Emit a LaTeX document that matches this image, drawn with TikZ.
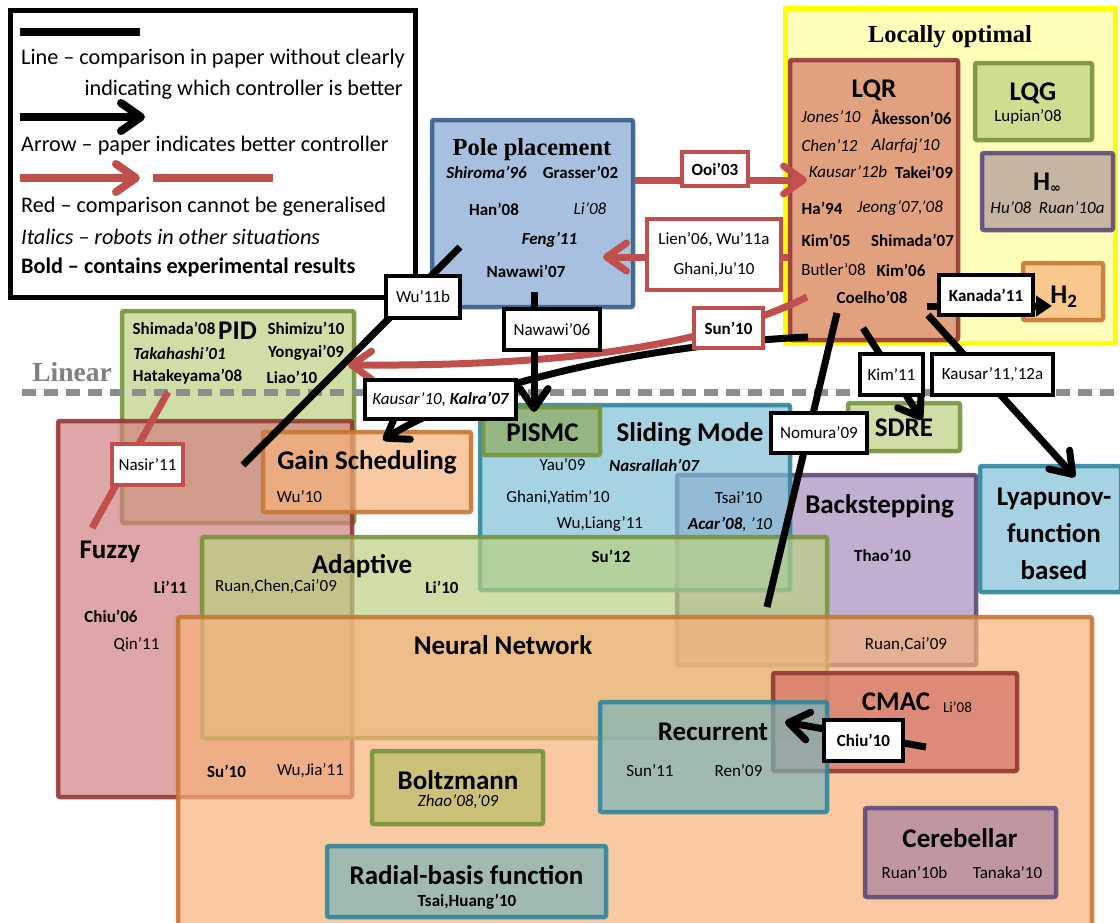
\documentclass[tikz,border=0pt]{standalone}
\usepackage{fontspec}
\setmainfont{Carlito}
\newfontfamily\serifbold{Liberation Serif}
\newfontfamily\symfont{DejaVu Sans}
\usetikzlibrary{arrows.meta,fit}

% fills (drawn with fill opacity) and borders
\definecolor{poleF}{RGB}{131,165,211}
\definecolor{poleD}{RGB}{56,93,138}
\definecolor{yelF}{RGB}{255,255,185}
\definecolor{yelD}{RGB}{255,255,0}
\definecolor{lqrF}{RGB}{215,122,101}
\definecolor{redD}{RGB}{149,55,53}
\definecolor{grnF}{RGB}{186,208,128}
\definecolor{grnD}{RGB}{119,147,60}
\definecolor{purF}{RGB}{166,140,190}
\definecolor{purD}{RGB}{95,73,122}
\definecolor{hinfF}{RGB}{175,150,155}
\definecolor{orgF}{RGB}{246,178,121}
\definecolor{orgD}{RGB}{200,118,52}
\definecolor{pinkF}{RGB}{208,128,128}
\definecolor{cmacF}{RGB}{210,114,102}
\definecolor{aquaF}{RGB}{128,192,215}
\definecolor{aquaD}{RGB}{49,133,156}
\definecolor{tealF}{RGB}{124,180,185}
\definecolor{pismcF}{RGB}{140,170,90}
\definecolor{boltF}{RGB}{184,192,104}
\definecolor{cereF}{RGB}{168,128,160}
\definecolor{linkR}{RGB}{192,80,77}
\definecolor{dashG}{RGB}{140,140,140}
\definecolor{linG}{RGB}{128,128,128}

\newcommand\fsTitle{\fontsize{27}{31}\selectfont\bfseries}
\newcommand\fsEntry{\fontsize{17}{19}\selectfont}
\newcommand\fsLegend{\fontsize{22.2}{25}\selectfont}
\newcommand\fsSerif{\fontsize{24.5}{28}\selectfont\serifbold\bfseries}
\newcommand\fsSerifL{\fontsize{27.5}{30}\selectfont\serifbold\bfseries}

\tikzset{
  regbox/.style 2 args={draw=#1, fill=#2, line width=4.5pt, rounded corners=2pt,
      inner sep=0pt, fill opacity=0.7, draw opacity=0.9},
  ttl/.style={font=\fsTitle, inner sep=0pt},
  ent/.style={font=\fsEntry, inner sep=0pt},
  lgd/.style={font=\fsLegend, inner sep=0pt},
  tagbox/.style={draw=black, fill=white, line width=4.5pt, inner sep=0pt,
      font=\fsEntry, align=center},
  redtag/.style={tagbox, draw=linkR},
  blk/.style={draw=black, line width=7pt},
  rd/.style={draw=linkR, line width=7pt},
  chev/.style={-{Straight Barb[length=20pt,width=28pt,line cap=round,line join=round]}},
  tri/.style={-{Triangle[length=16pt,width=20pt]}},
}

\begin{document}
\begin{tikzpicture}[x=1pt,y=-1pt]
\useasboundingbox (0,0) rectangle (1120,922);

% ---------- legend ----------
\node[draw=black, line width=5pt, fill=white, inner sep=0pt, fit={(10,10) (415,297)}] (legend) {};
\coordinate (lgL1) at (20,32); \coordinate (lgL2) at (140,32);
\draw[blk, line width=8pt] (lgL1) -- (lgL2);
\node[lgd, anchor=west] (lg1) at (21,59) {Line – comparison in paper without clearly};
\node[lgd, anchor=east] (lg2) at (403,90) {indicating which controller is better};
\coordinate (lgA1) at (20,117); \coordinate (lgA2) at (145,117);
\draw[blk, chev, line width=8pt] (lgA1) -- (lgA2);
\node[lgd, anchor=west] (lg3) at (21,146) {Arrow – paper indicates better controller};
\coordinate (lgR1) at (20,178); \coordinate (lgR2) at (140,178);
\draw[rd, chev, line width=8pt] (lgR1) -- (lgR2);
\coordinate (lgR3) at (153,178); \coordinate (lgR4) at (273,178);
\draw[rd, line width=8pt] (lgR3) -- (lgR4);
\node[lgd, anchor=west] (lg4) at (21,207) {Red – comparison cannot be generalised};
\node[lgd, anchor=west] (lg5) at (21,237) {\itshape Italics – robots in other situations};
\node[lgd, anchor=west] (lg6) at (21,267) {\bfseries Bold – contains experimental results};

% ---------- regions ----------
\node[fill=yelF, draw=yelD, line width=5pt, inner sep=0pt, fit={(785,8) (1115,343)}] (locopt) {};
\node[regbox={redD}{lqrF}, fit={(790,60) (958,340)}] (lqr) {};
\node[regbox={grnD}{grnF}, fit={(975,63) (1092,140)}] (lqg) {};
\node[regbox={purD}{hinfF}, fit={(982,153) (1113,230)}] (hinf) {};
\node[regbox={orgD}{orgF}, fit={(1023,263) (1103,320)}] (htwo) {};
\node[regbox={poleD}{poleF}, fit={(432,120) (633,307)}] (pole) {};
\node[regbox={grnD}{grnF}, fit={(122,311) (354,523)}] (pid) {};
\node[regbox={redD}{pinkF}, fit={(58,421) (352,797)}] (fuzzy) {};
\node[regbox={orgD}{orgF}, fit={(263,432) (471,512)}] (gain) {};
\node[regbox={purD}{purF}, fit={(677,475) (976,665)}] (back) {};
\node[regbox={aquaD}{aquaF}, fit={(480,405) (790,590)}] (slide) {};
\node[regbox={grnD}{pismcF}, fit={(483,407) (600,455)}] (pismc) {};
\node[regbox={grnD}{grnF}, fit={(848,403) (960,451)}] (sdre) {};
\node[regbox={aquaD}{aquaF}, fit={(980,466) (1121,592)}] (lyap) {};
\node[regbox={grnD}{grnF}, fit={(202,537) (827,738)}] (adapt) {};
\node[regbox={orgD}{orgF}, fit={(178,617) (1092,935)}] (neural) {};
\node[regbox={redD}{cmacF}, fit={(773,673) (1017,771)}] (cmac) {};
\node[regbox={aquaD}{tealF}, fit={(600,702) (827,812)}] (recur) {};
\node[regbox={grnD}{boltF}, fit={(372,751) (543,824)}] (boltz) {};
\node[regbox={aquaD}{tealF}, fit={(327,846) (606,917)}] (rbf) {};
\node[regbox={purD}{cereF}, fit={(865,808) (1056,897)}] (cereb) {};

% ---------- linear / nonlinear divide ----------
\coordinate (linL) at (22,392); \coordinate (linR) at (1125,392);
\draw[draw=dashG, line width=7pt, dash pattern=on 14pt off 8pt] (linL) -- (linR);
\node[font=\fsSerifL, text=linG, inner sep=0pt] (linear) at (72,372) {Linear};

% ---------- region titles and references ----------
\node[font=\fsSerif, inner sep=0pt] (tLoc) at (950,37) {Locally optimal};
\node[font=\fsSerif, inner sep=0pt] (tPole) at (532,150) {Pole placement};
\node[ent] (e01) at (486.5,172) {\bfseries\itshape Shiroma’96};
\node[ent] (e02) at (580.5,172) {\bfseries Grasser’02};
\node[ent] (e03) at (494,209) {\bfseries Han’08};
\node[ent] (e04) at (590,209) {\itshape Li’08};
\node[ent] (e05) at (549.5,240) {\bfseries\itshape Feng’11};
\node[ent] (e06) at (526,271) {\bfseries Nawawi’07};

\node[ttl] (tLqr) at (874,90) {LQR};
\node[ent] (e10) at (831,117) {\itshape Jones’10};
\node[ent] (e11) at (911.5,117) {\bfseries Åkesson’06};
\node[ent] (e12) at (829.5,146) {\itshape Chen’12};
\node[ent] (e13) at (905.5,146) {\itshape Alarfaj’10};
\node[ent] (e14) at (848,172) {\itshape Kausar’12b};
\node[ent] (e15) at (924,172) {\bfseries Takei’09};
\node[ent] (e16) at (822,208) {\bfseries Ha’94};
\node[ent] (e17) at (900,208) {\itshape Jeong’07,’08};
\node[ent] (e18) at (826,240) {\bfseries Kim’05};
\node[ent] (e19) at (912.5,240) {\bfseries Shimada’07};
\node[ent] (e20) at (833.5,270) {Butler’08};
\node[ent] (e21) at (901,270) {\bfseries Kim’06};
\node[ent] (e22) at (872,297) {\bfseries Coelho’08};

\node[ttl] (tLqg) at (1033,93) {LQG};
\node[ent] (e23) at (1028,117) {Lupian’08};
\node[ttl] (tHinf) at (1047,183) {H\raisebox{-2pt}{\symfont\fontsize{13}{13}\selectfont\bfseries ∞}};
\node[ent] (e24) at (1047.5,208) {\itshape Hu’08\ \ Ruan’10a};
\node[ttl] (tHtwo) at (1064,297) {H\textsubscript{2}};

\node[ttl] (tPid) at (237.5,331) {PID};
\node[ent] (e30) at (174,328) {\bfseries Shimada’08};
\node[ent] (e31) at (306,328) {\bfseries Shimizu’10};
\node[ent] (e32) at (179.5,353) {\bfseries\itshape Takahashi’01};
\node[ent] (e33) at (306,353) {\bfseries Yongyai’09};
\node[ent] (e34) at (187.5,377) {\bfseries Hatakeyama’08};
\node[ent] (e35) at (292,377) {\bfseries Liao’10};

\node[ttl] (tGain) at (367,462) {Gain Scheduling};
\node[ent] (e36) at (299.5,497) {Wu’10};

\node[ttl] (tFuzzy) at (110,552) {Fuzzy};
\node[ent] (e40) at (170.5,587) {\bfseries Li’11};
\node[ent] (e41) at (111,616) {\bfseries Chiu’06};
\node[ent] (e42) at (136.5,645) {Qin’11};
\node[ent] (e43) at (226.5,771) {\bfseries Su’10};
\node[ent] (e44) at (310.5,771) {Wu,Jia’11};

\node[ttl] (tAdapt) at (362,566) {Adaptive};
\node[ent] (e45) at (276,587) {Ruan,Chen,Cai’09};
\node[ent] (e46) at (442,587) {\bfseries Li’10};

\node[ttl] (tNeural) at (503,645) {Neural Network};
\node[ttl] (tBoltz) at (458,780) {Boltzmann};
\node[ent] (e50) at (458,802) {\itshape Zhao’08,’09};
\node[ttl] (tRbf) at (466.5,875) {Radial-basis function};
\node[ent] (e51) at (467,902) {\bfseries Tsai,Huang’10};
\node[ttl] (tRecur) at (713,732) {Recurrent};
\node[ent] (e52) at (650,771) {Sun’11};
\node[ent] (e53) at (738.5,771) {Ren’09};
\node[ttl] (tCmac) at (896,702) {CMAC};
\node[ent, font=\fontsize{15}{17}\selectfont] (e54) at (957.5,707) {Li’08};
\node[ttl] (tCereb) at (960,838) {Cerebellar};
\node[ent] (e55) at (914.5,873) {Ruan’10b};
\node[ent] (e56) at (1007.5,873) {Tanaka’10};

\node[ttl] (tPismc) at (542.5,433) {PISMC};
\node[ttl] (tSlide) at (690,434) {Sliding Mode};
\node[ent] (e60) at (562.5,465) {Yau’09};
\node[ent] (e61) at (654,465) {\bfseries\itshape Nasrallah’07};
\node[ent] (e62) at (558,498) {Ghani,Yatim’10};
\node[ent] (e63) at (738.5,498) {Tsai’10};
\node[ent] (e64) at (600,524) {Wu,Liang’11};
\node[ent] (e65) at (730,524) {{\bfseries\itshape Acar’08}{\itshape , ’10}};
\node[ent] (e66) at (611,556) {\bfseries Su’12};

\node[ttl] (tSdre) at (904,428) {SDRE};
\node[ttl] (tBack) at (879.5,506) {Backstepping};
\node[ent] (e70) at (882.5,555) {\bfseries Thao’10};
\node[ent] (e71) at (906,645) {Ruan,Cai’09};
\node[ttl, font=\fontsize{27}{37}\selectfont\bfseries, align=center] (tLyap) at (1054,534) {Lyapunov-\\function\\based};

% ---------- comparisons ----------
\coordinate (ooiB) at (807,180);
\draw[rd, chev] (pole.east |- ooiB) -- (ooiB);
\coordinate (lienB) at (603,257);
\draw[rd, chev] (lqr.west |- lienB) -- (lienB);
\coordinate (sunA) at (807,297); \coordinate (sunB) at (348,365);
\draw[rd, chev] (sunA) .. controls (690,355) and (520,366) .. (sunB);
\coordinate (kzA) at (808,337); \coordinate (kzB) at (383,440);
\draw[blk, chev] (kzA) .. controls (640,345) and (470,385) .. (kzB);
\coordinate (nwA) at (534,292); \coordinate (nwB) at (534,412);
\draw[blk, chev] (nwA) -- (nwB);
\coordinate (wuA) at (460,247); \coordinate (wuB) at (243,465);
\draw[blk] (wuA) -- (wuB);
\coordinate (naA) at (168,392); \coordinate (naB) at (92,528);
\draw[rd] (naA) -- (naB);
\coordinate (kaA) at (927,306); \coordinate (kaB) at (1052,306);
\draw[blk, tri] (kaA) -- (kaB);
\coordinate (kmA) at (863,328); \coordinate (kmB) at (922,420);
\draw[blk, chev] (kmA) -- (kmB);
\coordinate (ksA) at (928,315); \coordinate (ksB) at (1075,477);
\draw[blk, chev] (ksA) -- (ksB);
\coordinate (noA) at (837,313); \coordinate (noB) at (767,607);
\draw[blk] (noA) -- (noB);
\coordinate (chA) at (926,747); \coordinate (chB) at (785,722);
\draw[blk, chev] (chA) -- (chB);

% ---------- comparison labels ----------
\node[redtag, minimum width=66pt, minimum height=34pt, font=\fsEntry\bfseries] (ooi) at (715,169) {Ooi’03};
\node[redtag, minimum width=134pt, minimum height=71pt] (lien) at (714,254.5) {Lien’06, Wu’11a\\[11pt]Ghani,Ju’10};
\node[redtag, minimum width=69pt, minimum height=40pt, font=\fsEntry\bfseries] (sun) at (728.5,328) {Sun’10};
\node[tagbox, minimum width=94pt, minimum height=40pt, font=\fsEntry\bfseries] (kanada) at (986,295) {Kanada’11};
\node[tagbox, minimum width=63pt, minimum height=41pt] (kim) at (891.5,374.5) {Kim’11};
\node[tagbox, minimum width=121pt, minimum height=41pt] (kausarB) at (992.5,374.5) {Kausar’11,’12a};
\node[tagbox, minimum width=96pt, minimum height=40pt] (nomura) at (819,433) {Nomura’09};
\node[tagbox, minimum width=96pt, minimum height=41pt] (nawawi) at (552,329.5) {Nawawi’06};
\node[tagbox, minimum width=74pt, minimum height=42pt] (wub) at (423,297) {Wu’11b};
\node[tagbox, minimum width=151pt, minimum height=39pt] (kausarA) at (440.5,399.5) {\itshape Kausar’10, {\bfseries Kalra’07}};
\node[redtag, minimum width=71pt, minimum height=41pt] (nasir) at (147.5,464.5) {Nasir’11};
\node[tagbox, minimum width=79pt, minimum height=41pt, font=\fsEntry\bfseries] (chiu) at (863.5,740.5) {Chiu’10};
\end{tikzpicture}
\end{document}
